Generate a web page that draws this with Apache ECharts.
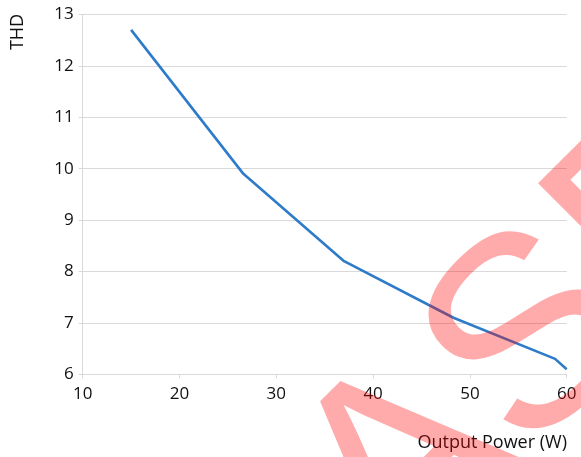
<!DOCTYPE html>
<html>
<head>
<meta charset="utf-8">
<script src="https://cdn.jsdelivr.net/npm/echarts@6/dist/echarts.min.js"></script>
<style>
html,body{margin:0;padding:0;background:#fff;}
#chart{width:581px;height:457px;}
</style>
</head>
<body>
<div id="chart"></div>
<script>
// Data
const outputPower = [15, 26.6, 37, 48.3, 58.8, 60];
const thd = [12.7, 9.9, 8.2, 7.1, 6.3, 6.1];
const xAxisName = 'Output Power (W)';
const yAxisName = 'THD';
const watermarkText = 'ASP';

const seriesData = outputPower.map((x, i) => [x, thd[i]]);

const chart = echarts.init(document.getElementById('chart'), null, {renderer: 'canvas'});
const labelFont = {color: '#111111', fontSize: 17, fontFamily: '"Open Sans", sans-serif'};
const axisGrey = '#d9d9d9';

chart.setOption({
  animation: false,
  backgroundColor: '#ffffff',
  grid: {left: 82.7, right: 14.3, top: 14.5, bottom: 82.7, containLabel: false},
  xAxis: {
    type: 'value', min: 10, max: 60, interval: 10,
    axisLine: {show: true, lineStyle: {color: axisGrey, width: 1}},
    axisTick: {show: true, length: 4, lineStyle: {color: axisGrey}},
    axisLabel: Object.assign({margin: 11, showMinLabel: true, showMaxLabel: true}, labelFont),
    splitLine: {show: false}
  },
  yAxis: {
    type: 'value', min: 6, max: 13, interval: 1,
    axisLine: {show: true, lineStyle: {color: axisGrey, width: 1}},
    axisTick: {show: true, length: 4, lineStyle: {color: axisGrey}},
    axisLabel: Object.assign({margin: 9}, labelFont),
    splitLine: {show: true, lineStyle: {color: axisGrey, width: 1}}
  },
  series: [{
    type: 'line',
    data: seriesData,
    showSymbol: false,
    symbol: 'none',
    lineStyle: {color: '#2e7bc9', width: 2.6},
    z: 2
  }],
  graphic: [
    {
      type: 'text', x: 18, y: 32, rotation: Math.PI / 2,
      style: {text: yAxisName, fill: '#111111', font: '18px "Open Sans", sans-serif',
              textAlign: 'center', textVerticalAlign: 'middle', align: 'center', verticalAlign: 'middle'}
    },
    {
      type: 'text', x: 567, y: 443,
      style: {text: xAxisName, fill: '#111111', font: '18px "Open Sans", sans-serif',
              textAlign: 'right', textVerticalAlign: 'middle', align: 'right', verticalAlign: 'middle'}
    },
    {
      type: 'text', x: 345, y: 535, rotation: Math.PI / 4, z: 100,
      style: {text: watermarkText, fill: 'rgba(255,0,0,0.33)', font: '272px "Liberation Sans", Arial, sans-serif',
              textAlign: 'left', textVerticalAlign: 'middle', align: 'left', verticalAlign: 'middle'}
    }
  ]
});
</script>
</body>
</html>
